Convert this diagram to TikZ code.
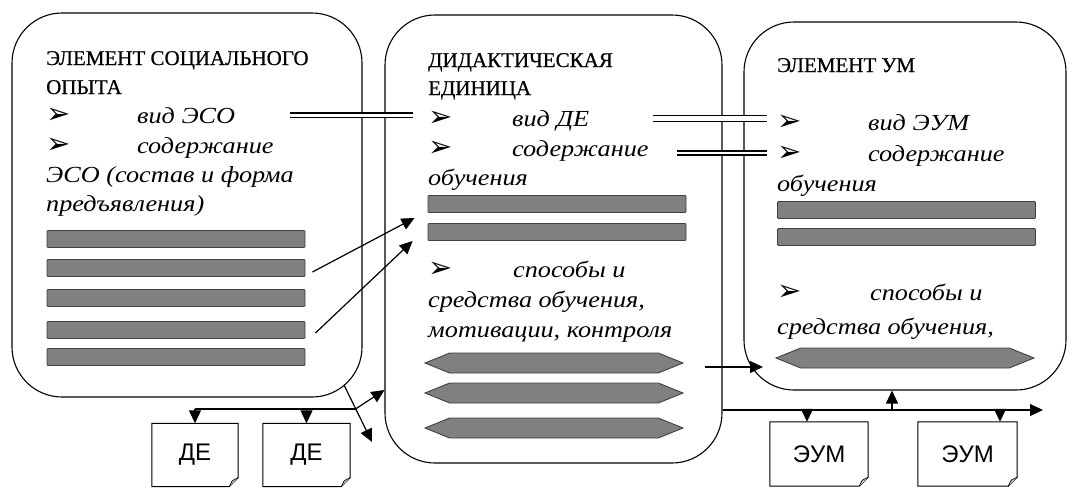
\documentclass[tikz,border=0pt]{standalone}
\usepackage{fontspec}
\setmainfont{Liberation Serif}
\newfontfamily\wideserif[FakeStretch=1.14]{Liberation Serif}
\newfontfamily\headserif[FakeBold=0.6]{Liberation Serif}
\newfontfamily\symfont{DejaVu Sans}
\newfontfamily\docfont{Liberation Sans}
\usetikzlibrary{arrows.meta,shapes.symbols}

\newcommand{\headtext}{\headserif\fontsize{21}{24}\selectfont}
\newcommand{\itemtext}{\wideserif\itshape\fontsize{23}{28}\selectfont}
\newcommand{\point}[2][91pt]{\makebox[#1][l]{\symfont\upshape\fontsize{29}{29}\selectfont\char"27A2}#2}

\begin{document}
\begin{tikzpicture}[x=1pt, y=-1pt,
        panel/.style={draw, line width=1.1pt, rounded corners=50pt, inner sep=0pt},
        head/.style={anchor=base west, inner sep=0pt, font=\headtext},
        item/.style={anchor=base west, inner sep=0pt, font=\itemtext},
        bar/.style={draw=black!75, line width=0.9pt, fill=black!50, rounded corners=1pt,
            minimum width=258pt, minimum height=17pt, inner sep=0pt},
        tipbar/.style={signal, signal to=east and west, signal pointer angle=44,
            draw=black!75, line width=0.9pt, fill=black!50,
            minimum width=258pt, minimum height=20pt, inner sep=0pt},
        doc/.style={minimum width=#1, minimum height=63pt, inner sep=0pt,
            font=\docfont\fontsize{24}{24}\selectfont},
        twin/.style={double, double distance=#1, line width=1.1pt},
        wire/.style={line width=1.2pt},
        link/.style={line width=1.2pt, -{Triangle[length=13pt, width=12pt]}}
    ]
        \useasboundingbox (0,0) rectangle (1069,488);

        \node[panel, minimum width=350pt, minimum height=384pt] (eso) at (187,205) {};
        \node[panel, minimum width=337pt, minimum height=448pt] (de) at (553.5,239) {};
        \node[panel, minimum width=322pt, minimum height=368pt] (uem) at (905,206) {};

        \node[head] (eso-t1) at (46,65) {ЭЛЕМЕНТ СОЦИАЛЬНОГО};
        \node[head] (eso-t2) at (46,94) {ОПЫТА};
        \node[item] (eso-t3) at (46,123) {\point{вид ЭСО}};
        \node[item] (eso-t4) at (46,153) {\point{содержание}};
        \node[item] (eso-t5) at (46,182) {ЭСО (состав и форма};
        \node[item] (eso-t6) at (46,211) {предъявления)};
        \foreach \y [count=\i] in {239,268,298,330,357}
            \node[bar] (eso-b\i) at (176,\y) {};

        \node[head] (de-t1) at (428,67) {ДИДАКТИЧЕСКАЯ};
        \node[head] (de-t2) at (428,95) {ЕДИНИЦА};
        \node[item] (de-t3) at (428,126) {\point[84pt]{вид ДЕ}};
        \node[item] (de-t4) at (428,156) {\point[84pt]{содержание}};
        \node[item] (de-t5) at (428,185) {обучения};
        \node[bar] (de-b1) at (557,204) {};
        \node[bar] (de-b2) at (557,232) {};
        \node[item] (de-t6) at (428,277) {\point[85pt]{способы и}};
        \node[item] (de-t7) at (428,307) {средства обучения,};
        \node[item] (de-t8) at (428,337) {мотивации, контроля};
        \foreach \y [count=\i] in {363,393,428}
            \node[tipbar] (de-h\i) at (554,\y) {};

        \node[head] (uem-t1) at (777,72) {ЭЛЕМЕНТ УМ};
        \node[item] (uem-t2) at (777,130) {\point{вид ЭУМ}};
        \node[item] (uem-t3) at (777,161) {\point{содержание}};
        \node[item] (uem-t4) at (777,191) {обучения};
        \node[bar] (uem-b1) at (906.5,210) {};
        \node[bar] (uem-b2) at (906.5,237) {};
        \node[item] (uem-t5) at (777,300) {\point[93pt]{способы и}};
        \node[item] (uem-t6) at (777,334) {средства обучения,};
        \node[tipbar] (uem-h1) at (905,358) {};

        \node[doc=86pt] (de1) at (195,455) {ДЕ};
        \node[doc=87pt] (de2) at (306.5,455) {ДЕ};
        \node[doc=98pt, minimum height=64pt] (uem1) at (819,454) {ЭУМ};
        \node[doc=99pt, minimum height=64pt] (uem2) at (967.5,454) {ЭУМ};
        \foreach \d in {de1,de2,uem1,uem2} {
            \draw[line width=1pt] (\d.north west) -- (\d.north east) -- ([yshift=9pt]\d.south east)
                -- ([xshift=-9pt]\d.south east) -- (\d.south west) -- cycle;
            \draw[line width=0.6pt, fill=black!20] ([yshift=9pt]\d.south east)
                -- ([xshift=-6pt,yshift=6pt]\d.south east) -- ([xshift=-9pt]\d.south east);
        }

        \coordinate (eso-v) at (290,115);
        \coordinate (de-vin) at (413,115);
        \coordinate (de-vout) at (653,118);
        \coordinate (uem-vin) at (767,118);
        \coordinate (de-c) at (677,153);
        \coordinate (uem-c) at (767,153);
        \draw[twin=3pt, line width=1.3pt] (eso-v) -- (de-vin);
        \draw[twin=5pt, line width=1pt] (de-vout) -- (uem-vin);
        \draw[twin=2.8pt, line width=1.5pt] (de-c) -- (uem-c);

        \draw[link] ([xshift=7pt,yshift=-4pt]eso-b2.east) -- ([xshift=-13pt,yshift=-14pt]de-b1.west);
        \draw[link] ([xshift=10pt,yshift=-3pt]eso-b4.east) -- ([xshift=-15pt,yshift=-9pt]de-b2.west);

        \coordinate (eso-out) at (344,385);
        \coordinate (eso-drop) at (372,442);
        \coordinate (fork) at (355.5,409);
        \draw[link] (eso-out) -- (eso-drop);
        \draw[wire] (fork) -- (de1.north |- fork);
        \draw[link] (de1.north |- fork) -- (de1.north);
        \draw[link] (de2.north |- fork) -- (de2.north);
        \draw[link] (fork) -- (de.west |- 0,390);

        \coordinate (de-out) at (705,367);
        \coordinate (uem-in) at (763,367);
        \draw[link] (de-out) -- (uem-in);
        \coordinate (rail) at (1043,410);
        \coordinate (u1) at (807,410);
        \coordinate (u2) at (1000,410);
        \coordinate (up) at (892,410);
        \draw[link] (de.east |- rail) -- (rail);
        \draw[link] (u1) -- (u1 |- uem1.north);
        \draw[link] (u2) -- (u2 |- uem2.north);
        \draw[link] (up) -- (up |- uem.south);
    \end{tikzpicture}
\end{document}
